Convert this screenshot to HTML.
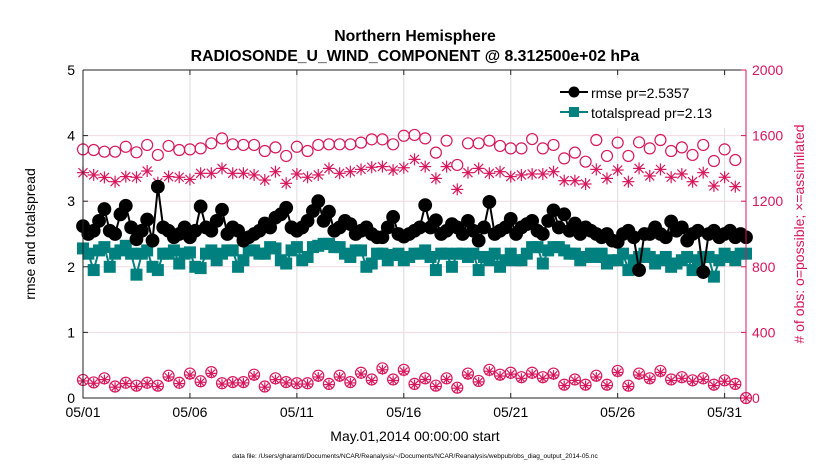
<!DOCTYPE html>
<html><head><meta charset="utf-8"><style>
html,body{margin:0;padding:0;background:#fff;}
svg{display:block;font-family:"Liberation Sans",Arial,sans-serif;}
</style></head><body>
<svg id="chart" width="830" height="470" viewBox="0 0 830 470">
<text x="415" y="41" text-anchor="middle" font-size="15.8" font-weight="bold">Northern Hemisphere</text>
<text x="415" y="61" text-anchor="middle" font-size="15.8" font-weight="bold">RADIOSONDE_U_WIND_COMPONENT @ 8.312500e+02 hPa</text>
<g id="grid"></g>
<g id="series"></g>
<g id="axes"></g>
<g id="legend"></g>
<text transform="translate(35,234) rotate(-90)" text-anchor="middle" font-size="14">rmse and totalspread</text>
<text transform="translate(804,234) rotate(-90)" text-anchor="middle" font-size="14" fill="#d6175c"># of obs: o=possible; ×=assimilated</text>
<text x="415" y="441" text-anchor="middle" font-size="14">May.01,2014 00:00:00 start</text>
<text x="415" y="458" text-anchor="middle" font-size="6.5">data file: /Users/gharamti/Documents/NCAR/Reanalysis/~/Documents/NCAR/Reanalysis/webpub/obs_diag_output_2014-05.nc</text>
</svg>
<script>
const xTickLabels=["05/01","05/06","05/11","05/16","05/21","05/26","05/31"];
const xTickDays=[0,5,10,15,20,25,30];
const leftTicks=[0,1,2,3,4,5];
const rightTicks=[0,400,800,1200,1600,2000];
const rmse=[2.62,2.5,2.55,2.7,2.88,2.55,2.5,2.8,2.93,2.6,2.42,2.55,2.72,2.4,3.22,2.6,2.55,2.45,2.5,2.6,2.45,2.55,2.92,2.6,2.55,2.7,2.87,2.5,2.6,2.55,2.4,2.45,2.5,2.55,2.66,2.6,2.75,2.8,2.9,2.6,2.55,2.6,2.7,2.85,3.0,2.7,2.84,2.55,2.6,2.7,2.65,2.5,2.55,2.6,2.5,2.45,2.45,2.6,2.76,2.5,2.46,2.5,2.55,
2.6,2.94,2.6,2.71,2.5,2.55,2.65,2.6,2.5,2.7,2.55,2.4,2.6,2.99,2.5,2.55,2.6,2.73,2.5,2.6,2.65,2.7,2.55,2.5,2.7,2.86,2.6,2.8,2.55,2.66,2.5,2.6,2.55,2.5,2.45,2.5,2.4,2.38,2.5,2.55,2.45,1.95,2.5,2.5,2.6,2.5,2.45,2.69,2.55,2.6,2.4,2.5,2.55,1.92,2.5,2.55,2.45,2.5,2.55,2.45,2.5,2.45];
const spread=[2.28,2.2,1.95,2.25,2.3,2.0,2.2,2.25,2.32,2.2,1.88,2.2,2.25,2.0,1.95,2.2,2.2,2.25,2.05,2.2,2.22,2.0,1.98,2.2,2.25,2.1,2.2,2.25,2.25,2.0,2.1,2.25,2.25,2.2,2.2,2.3,2.28,2.1,2.05,2.25,2.3,2.1,2.15,2.3,2.32,2.35,2.35,2.3,2.3,2.2,2.15,2.25,2.25,2.0,2.05,2.2,2.2,2.1,2.18,2.2,2.1,2.15,2.2,
2.2,2.25,2.15,1.95,2.2,2.2,2.0,2.2,2.2,2.15,2.2,1.95,2.15,2.1,2.2,2.0,2.1,2.2,2.1,2.1,2.2,2.3,2.3,2.05,2.25,2.3,2.3,2.25,2.2,2.2,2.1,2.15,2.2,2.15,2.2,2.05,2.1,2.1,2.2,1.95,2.1,2.15,2.2,2.15,2.05,2.1,2.15,2.0,2.05,2.1,2.15,1.95,2.1,2.15,2.15,1.85,2.1,2.2,2.15,2.1,2.2,2.2];
const possible=[1516,1512,1502,1502,1532,1498,1543,1482,1537,1512,1516,1522,1553,1583,1547,1543,1543,1506,1528,1476,1532,1506,1543,1547,1547,1547,1557,1577,1577,1547,1599,1604,
1583,1496,1569,1421,1553,1553,1569,1537,1522,1522,1579,1522,1543,1461,1496,1441,1573,1476,1557,1476,1559,1522,1573,1506,1528,1482,1543,1445,1516,1451];
const assimilated=[1374,1360,1345,1319,1350,1346,1384,1313,1350,1346,1333,1370,1370,1400,1370,1370,1360,1329,1380,1309,1366,1346,1360,1400,1370,1380,1394,1407,1411,1390,1404,1455,
1411,1339,1411,1272,1374,1400,1370,1380,1350,1360,1366,1366,1380,1325,1325,1305,1394,1339,1390,1319,1400,1354,1394,1346,1366,1319,1374,1293,1346,1289];
const possibleLow=[110,95,120,70,93,75,93,75,136,93,149,102,158,90,97,97,142,70,120,97,90,90,136,86,136,97,154,113,181,113,172,86,120,75,120,63,149,104,172,142,154,127,154,127,149,81,113,81,136,81,165,75,149,120,165,113,127,108,120,81,108,86,0];
const assimilatedLow=[104,90,112,66,88,70,87,70,128,88,140,96,150,85,92,92,134,66,112,92,85,85,128,82,128,92,146,107,172,107,163,82,113,70,113,60,140,98,163,134,146,120,146,120,140,76,107,76,128,76,156,70,140,113,156,107,120,102,113,76,102,82,0];

const NS="http://www.w3.org/2000/svg";
const X0=83,X1=746,Y0=398,Y1=70;
const xs=d=>X0+(d/31)*(X1-X0);
const yl=v=>Y0-(v/5)*(Y0-Y1);
const yr=v=>Y0-(v/2000)*(Y0-Y1);
const tHalf=i=>i*0.5;
const tSpan=(i,n)=>i*31/(n-1);
function mk(tag,attrs,parent){const e=document.createElementNS(NS,tag);for(const k in attrs)e.setAttribute(k,attrs[k]);parent.appendChild(e);return e;}
const grid=document.getElementById('grid'),series=document.getElementById('series'),axes=document.getElementById('axes'),legend=document.getElementById('legend');
const PINK="#d6175c",TEAL="#00807f";

mk('rect',{x:X0,y:Y1,width:X1-X0,height:Y0-Y1,fill:'#fff'},grid);
xTickDays.forEach((d,i)=>{
  const g=mk('line',{x1:xs(d),x2:xs(d),y1:Y1,y2:Y0,stroke:'#dcdcdc','stroke-width':1},grid);
  
  
});
leftTicks.slice(1,5).forEach(v=>{
  const g=mk('line',{x1:X0,x2:X1,y1:yl(v),y2:yl(v),stroke:'#f3d9e2','stroke-width':1},grid);
  
  
});

function polyline(vals,tf,yfn,color,name){
  const pts=vals.map((v,i)=>xs(tf(i,vals.length)).toFixed(1)+','+yfn(v).toFixed(1)).join(' ');
  const p=mk('polyline',{points:pts,fill:'none',stroke:color,'stroke-width':2},series);
  
  
}
function circles(vals,tf,yfn,r,fill,stroke,name){
  vals.forEach((v,i)=>{
    const c=mk('circle',{cx:xs(tf(i,vals.length)),cy:yfn(v),r:r,fill:fill,stroke:stroke,'stroke-width':1.2},series);
    
    
  });
}
function squares(vals,tf,yfn,s,color,name){
  vals.forEach((v,i)=>{
    const c=mk('rect',{x:xs(tf(i,vals.length))-s/2,y:yfn(v)-s/2,width:s,height:s,fill:color},series);
    
    
  });
}
function stars(vals,tf,yfn,r,color,name){
  vals.forEach((v,i)=>{
    const cx=xs(tf(i,vals.length)),cy=yfn(v);
    const g=mk('g',{stroke:color,'stroke-width':1.2},series);
    
    
    mk('line',{x1:cx-r,x2:cx+r,y1:cy,y2:cy},g);
    mk('line',{x1:cx,x2:cx,y1:cy-r,y2:cy+r},g);
    const a=r*0.75;
    mk('line',{x1:cx-a,x2:cx+a,y1:cy-a,y2:cy+a},g);
    mk('line',{x1:cx-a,x2:cx+a,y1:cy+a,y2:cy-a},g);
  });
}
circles(possible,tHalf,yr,5.5,'none',PINK,'possible-obs-marker');
stars(assimilated,tHalf,yr,6,PINK,'assimilated-obs-marker');
circles(possibleLow,tHalf,yr,5.5,'none',PINK,'possible-obs-low-marker');
stars(assimilatedLow,tHalf,yr,5,PINK,'assimilated-obs-low-marker');
polyline(spread,tSpan,yl,TEAL,'totalspread-line');
squares(spread,tSpan,yl,12,TEAL,'totalspread-marker');
polyline(rmse,tSpan,yl,'#000','rmse-line');
circles(rmse,tSpan,yl,6.3,'#000','#000','rmse-marker');

// axes
mk('path',{d:`M${X0},${Y1}H${X1}M${X0},${Y1}V${Y0}H${X1}`,fill:'none',stroke:'#222','stroke-width':1},axes);
const ra=mk('line',{x1:X1,x2:X1,y1:Y1,y2:Y0,stroke:PINK,'stroke-width':1},axes);


xTickDays.forEach((d,i)=>{
  mk('line',{x1:xs(d),x2:xs(d),y1:Y0,y2:Y0-5,stroke:'#222'},axes);
  mk('line',{x1:xs(d),x2:xs(d),y1:Y1,y2:Y1+5,stroke:'#222'},axes);
  const t=mk('text',{x:xs(d),y:Y0+19,'text-anchor':'middle','font-size':14},axes);
  t.textContent=xTickLabels[i];
  
  
});
leftTicks.forEach(v=>{
  mk('line',{x1:X0,x2:X0+5,y1:yl(v),y2:yl(v),stroke:'#222'},axes);
  const t=mk('text',{x:X0-8,y:yl(v)+5,'text-anchor':'end','font-size':14},axes);
  t.textContent=v;
  
  
});
rightTicks.forEach(v=>{
  mk('line',{x1:X1,x2:X1-5,y1:yr(v),y2:yr(v),stroke:PINK},axes);
  const t=mk('text',{x:X1+6,y:yr(v)+5,'text-anchor':'start','font-size':14,fill:PINK},axes);
  t.textContent=v;
  
  
});

// legend
const lb=mk('rect',{x:548,y:78,width:195,height:50,fill:'#fff'},legend);


const e1=mk('g',{},legend);


mk('line',{x1:560,x2:588,y1:92,y2:92,stroke:'#000','stroke-width':2},e1);
mk('circle',{cx:574,cy:92,r:5.5,fill:'#000'},e1);
const t1=mk('text',{x:591,y:98,'font-size':14},e1);t1.textContent='rmse pr=2.5357';
const e2=mk('g',{},legend);


mk('line',{x1:560,x2:588,y1:112,y2:112,stroke:TEAL,'stroke-width':2},e2);
mk('rect',{x:569,y:107,width:10,height:10,fill:TEAL},e2);
const t2=mk('text',{x:591,y:118,'font-size':14},e2);t2.textContent='totalspread pr=2.13';
</script>
</body></html>
